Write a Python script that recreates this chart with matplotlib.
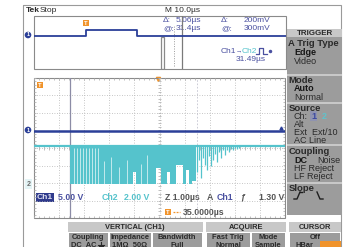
import matplotlib
matplotlib.use("Agg")
import matplotlib.pyplot as plt
from matplotlib.patches import Rectangle, Circle
import numpy as np

plt.rcParams['font.family'] = ['Liberation Sans', 'DejaVu Sans']

# ---------------- data ----------------
ch1_scale = 5.0            # V/div
ch2_scale = 2.0            # V/div
ch1_offset = 1.0           # div
ch2_offset = -2.0          # div
zoom_t = [30.0, 40.0]      # µs shown in the zoomed window (1.00 µs/div)

ch1_t = [30.0, 40.0]
ch1_v = [0.0, 0.0]

ch2_level = 4.2            # V idle level of Ch2
ch2_flat_t = [30.0, 40.0]
# burst envelope (step-post): start time, lowest voltage reached
ch2_env_t = [31.44, 33.96, 34.08, 34.88, 35.04, 35.28, 35.40, 35.64, 35.92, 36.04, 36.16, 36.28, 36.44]
ch2_env_lo = [-0.1, 1.3, -0.1, 1.7, -0.1, 1.2, -0.1, 2.1, -0.1, 1.5, -0.1, 0.2, 0.2]
# decaying ringing after the burst
ch2_finger_t = [36.48, 36.56, 36.64, 36.72, 36.80, 36.88, 36.96, 37.04, 37.12, 37.20, 37.28,
                37.36, 37.44, 37.52, 37.60, 37.68, 37.76, 37.84, 37.92, 38.00, 38.08, 38.16]
ch2_finger_lo = [1.3, 2.6, 0.6, 2.9, 2.1, 1.5, 3.1, 1.9, 2.6, 3.3, 2.4,
                 3.5, 2.9, 3.8, 3.2, 3.8, 3.5, 3.9, 3.8, 4.0, 3.9, 4.0]
# gaps inside the dense burst (from 0 V up to the given voltage)
ch2_gap_t = [31.60, 31.72, 31.84, 31.96, 32.08, 32.20, 32.32, 32.44, 32.56,
             32.80, 33.08, 33.40, 33.72, 34.28, 34.52]
ch2_gap_top = [4.0, 4.0, 4.0, 4.0, 4.0, 4.0, 4.0, 4.0, 4.0,
               2.5, 3.0, 1.8, 2.6, 2.2, 3.2]

cursor_t = [31.44, 36.50]  # µs

# overview record (10.0 µs/div), trigger at 0 µs
ov_t = [-20.6, 0.0, 0.0, 20.4, 20.4, 79.4]
ov_v = [0.0, 0.0, 4.6, 4.6, 0.0, 0.0]
ov_window = [29.6, 38.2]

# ---------------- drawing ----------------
W, H = 356, 247
fig = plt.figure(figsize=(W / 100, H / 100), dpi=100)
bg = fig.add_axes([0, 0, 1, 1])
bg.set_xlim(0, W)
bg.set_ylim(H, 0)
bg.axis('off')

BLUE = '#2b3f98'
CYAN = '#55c3cc'
ORANGE = '#f0932b'
PANEL = '#9c9c9c'
PANEL_L = '#c8c8c8'
DARK = '#2a2a2a'
RBLUE = '#4a50a0'


def px_axes(x0, y0, x1, y1):
    a = fig.add_axes([x0 / W, 1 - y1 / H, (x1 - x0) / W, (y1 - y0) / H])
    a.axis('off')
    return a


def txt(x, y, s, size=6.0, color=DARK, weight='normal', ha='left', **kw):
    bg.text(x, y, s, fontsize=size, color=color, fontweight=weight, ha=ha, va='center', **kw)


def rect(x0, y0, x1, y1, fc, ec='none', lw=0.0, z=1):
    bg.add_patch(Rectangle((x0, y0), x1 - x0, y1 - y0, fc=fc, ec=ec, lw=lw, zorder=z))


# screen border
bg.add_patch(Rectangle((23, 5), 318, 250, fill=False, ec='#9a9a9a', lw=0.8))

# header
txt(26, 11, 'Tek', 6, DARK, 'bold')
txt(40, 11, 'Stop', 6, DARK)
txt(165, 11, 'M 10.0µs', 6, DARK)

# ---------------- overview window ----------------
ov = px_axes(34, 16, 286, 69)
ov.set_xlim(ov_t[0], ov_t[-1])
ov.set_ylim(-4, 4)
ov.add_patch(Rectangle((ov_t[0], -4), ov_t[-1] - ov_t[0], 8, fill=False, ec='#8a8a8a', lw=0.8, clip_on=False))
ov.plot(ov_t, np.asarray(ov_v) / ch1_scale + ch1_offset, color=BLUE, lw=1.3, zorder=3)
ov.add_patch(Rectangle((ov_window[0], -4), 1.4, 4.9, fill=False, ec='#8a8a8a', lw=0.9, zorder=2))
ov.plot([ov_window[1]] * 2, [-4, 4], color='#7a7a7a', lw=0.9, zorder=2)
ov.plot([sum(ov_window) / 2 + 1] * 2, [-3.5, 2.5], color='#9a9a9a', lw=0.7, ls=(0, (1, 1.5)), zorder=2)

# trigger marker in overview
bg.add_patch(Rectangle((83, 20), 6, 6, fc=ORANGE, ec='none', zorder=4))
txt(86, 23.2, 'T', 4.2, 'white', 'bold', ha='center', zorder=5)
# ch1 marker overview
bg.add_patch(Circle((28, 35), 3.3, fc=BLUE, ec='none', zorder=4))
txt(28, 35, '1', 4, 'white', 'bold', ha='center', zorder=5)

# cursor readouts
txt(163, 21, 'Δ:', 6, RBLUE)
txt(201, 21, '5.06µs', 6, RBLUE, ha='right')
txt(221, 21, 'Δ:', 6, RBLUE)
txt(270, 21, '200mV', 6, RBLUE, ha='right')
txt(163, 29, '@:', 6, RBLUE)
txt(201, 29, '31.4µs', 6, RBLUE, ha='right')
txt(221, 29, '@:', 6, RBLUE)
txt(270, 29, '300mV', 6, RBLUE, ha='right')
txt(221, 51, 'Ch1', 6, RBLUE)
txt(235.5, 51, '→', 4.5, RBLUE)
txt(241.5, 51, 'Ch2', 6, CYAN)
bg.plot([256, 259, 259, 263, 263, 267], [54, 54, 48, 48, 54, 54], color=RBLUE, lw=0.9)
bg.plot([270], [51], marker='o', ms=1.5, color=RBLUE)
txt(251, 59, '31.49µs', 6, RBLUE, ha='center')

# ---------------- main (zoom) window ----------------
ax = px_axes(34, 78, 285, 218)
ax.set_xlim(zoom_t)
ax.set_ylim(-4, 4)
gc = '#b4b4b4'
for k in range(1, 10):
    ax.axvline(zoom_t[0] + k, color=gc, lw=0.6, ls=(0, (1, 2)), zorder=1)
for k in range(-3, 4):
    ax.axhline(k, color=gc, lw=0.6, ls=(0, (1, 2)), zorder=1)
ax.add_patch(Rectangle((zoom_t[0], -4), 10, 8, fill=False, ec='#8a8a8a', lw=0.8, zorder=1, clip_on=False))
tx = np.arange(zoom_t[0], zoom_t[1] + 1e-6, 0.2)
ty = np.arange(-4, 4 + 1e-6, 0.2)
ax.vlines(tx, -0.1, 0.1, color=gc, lw=0.6, zorder=1)
ax.vlines(tx, -4, -3.9, color=gc, lw=0.6, zorder=1)
ax.vlines(tx, 3.9, 4, color=gc, lw=0.6, zorder=1)
ax.hlines(ty, 34.94, 35.06, color=gc, lw=0.6, zorder=1)
ax.hlines(ty, 30, 30.07, color=gc, lw=0.6, zorder=1)
ax.hlines(ty, 39.93, 40, color=gc, lw=0.6, zorder=1)


def d1(v):
    return np.asarray(v, float) / ch1_scale + ch1_offset


def d2(v):
    return np.asarray(v, float) / ch2_scale + ch2_offset


# cursors
ax.axvline(cursor_t[0], color='#8c8ca6', lw=0.9, zorder=2)
ax.axvline(cursor_t[1], color='#c4c4d0', lw=0.6, ls=(0, (2, 2)), zorder=2)

# Ch2 trace
ax.fill_between(ch2_env_t, d2(ch2_env_lo), d2(ch2_level), step='post', color=CYAN, lw=0, zorder=3)
ax.vlines(ch2_finger_t, d2(ch2_finger_lo), d2(ch2_level), color=CYAN, lw=0.9, zorder=3)
ax.vlines(ch2_gap_t, d2([-0.1] * len(ch2_gap_t)), d2(ch2_gap_top), color='white', lw=0.6, alpha=0.75, zorder=3)
ax.plot(ch2_flat_t, d2([ch2_level] * 2), color=CYAN, lw=1.6, zorder=4)

# Ch1 trace
ax.plot(ch1_t, d1(ch1_v), color=BLUE, lw=1.8, zorder=5)
ax.plot([ch1_t[-1] - 0.15], d1([ch1_v[-1]]) + 0.15, marker='^', ms=2.2, color=BLUE, zorder=5)

# markers main window
bg.add_patch(Rectangle((37, 82), 6, 6, fc=ORANGE, ec='none', zorder=4))
txt(40, 85.2, 'T', 4.2, 'white', 'bold', ha='center', zorder=5)
bg.plot([158], [79], marker='v', ms=3, color=ORANGE, zorder=5)
bg.add_patch(Circle((28, 130), 3.3, fc=BLUE, ec='none', zorder=4))
txt(28, 130, '1', 4, 'white', 'bold', ha='center', zorder=5)
txt(28.5, 184, '2', 5, '#6a6a6a', 'bold', ha='center',
    bbox=dict(boxstyle='square,pad=0.15', fc='#e4f4f6', ec='none'))

# readouts
txt(37, 197, 'Ch1', 6, '#dfe0f2', 'bold',
    bbox=dict(boxstyle='square,pad=0.12', fc='#2f3a8c', ec='none'))
txt(58, 197, '5.00 V', 6.3, RBLUE, 'bold')
txt(102, 197, 'Ch2', 6.3, CYAN, 'bold')
txt(124, 197, '2.00 V', 6.3, CYAN, 'bold')
txt(165, 197, 'Z 1.00µs', 6.3, '#555555', 'bold')
txt(207, 197, 'A', 6.3, '#555555', 'bold')
txt(217, 197, 'Ch1', 6.3, RBLUE, 'bold')
txt(240, 197, 'ƒ', 6.3, '#555555', 'bold')
txt(284, 197, '1.30 V', 6.3, '#555555', 'bold', ha='right')
bg.add_patch(Rectangle((165, 209), 6, 6, fc=ORANGE, ec='none', zorder=4))
txt(168, 212.2, 'T', 4.2, 'white', 'bold', ha='center', zorder=5)
bg.plot([173, 180], [212, 212], color=ORANGE, lw=0.9, ls=(0, (1.5, 1)))
txt(183, 212, '35.0000µs', 6.3, '#555555', 'bold')

# ---------------- trigger side panel ----------------
rect(287, 29, 342, 215, PANEL)
rect(287, 29, 342, 37.5, PANEL_L)
txt(315, 33.5, 'TRIGGER', 5.8, DARK, 'bold', ha='center')
for yy in [75, 103, 145, 183]:
    rect(287, yy - 1, 342, yy + 1, PANEL_L)
side_titles = [('A Trig Type', 43), ('Mode', 80), ('Source', 108), ('Coupling', 151), ('Slope', 188)]
for s, yy in side_titles:
    txt(288.5, yy, s, 6.8, DARK, 'bold')
side_items = [('Edge', 52, True), ('Video', 61, False), ('Auto', 88, True), ('Normal', 97, False),
              ('Alt', 124, False), ('Ext  Ext/10', 132, False), ('AC Line', 140, False),
              ('DC', 160, True), ('HF Reject', 168, False), ('LF Reject', 176, False)]
for s, yy, hi in side_items:
    txt(294, yy, s, 6.5, '#161616' if hi else DARK, 'bold' if hi else 'normal')
txt(317, 160, 'Noise', 6.5, DARK)
txt(294, 116, 'Ch:', 6.5, DARK)
txt(311, 116, '1', 6.5, '#3d4aa0', 'bold', bbox=dict(boxstyle='square,pad=0.1', fc='#8f93b0', ec='none'))
txt(322, 116, '2', 6.5, '#5fc3cc', 'bold')
bg.plot([294, 297, 300], [199, 199, 192], color='#1e1e1e', lw=1.0)
bg.plot([300, 302], [192, 192], color='#1e1e1e', lw=1.0)
bg.plot([317, 320, 323], [192, 199, 199], color='#1e1e1e', lw=1.0)

# ---------------- bottom menu ----------------
rect(68, 222, 203, 232, PANEL_L)
rect(206, 222, 286, 232, PANEL_L)
rect(289, 222, 341, 232, PANEL_L)
for x0, x1 in [(69, 108), (110, 151), (153, 202), (207, 250), (252, 285), (290, 340)]:
    rect(x0, 233, x1, 247, PANEL)
txt(135, 227, 'VERTICAL (CH1)', 5.4, DARK, 'bold', ha='center')
txt(246, 227, 'ACQUIRE', 5.4, DARK, 'bold', ha='center')
txt(315, 227, 'CURSOR', 5.4, DARK, 'bold', ha='center')
for s, x, yy in [('Coupling', 88, 237), ('DC  AC', 84, 245), ('Impedance', 130, 237),
                 ('1MΩ  50Ω', 130, 245), ('Bandwidth', 177, 237), ('Full', 177, 245),
                 ('Fast Trig', 228, 237), ('Normal', 228, 245), ('Mode', 268, 237),
                 ('Sample', 268, 245), ('Off', 315, 237)]:
    txt(x, yy, s, 5.4, DARK, 'bold', ha='center')
# earth-ground symbol (no installed font has U+23DA)
bg.plot([101, 101], [242, 245], color=DARK, lw=0.8)
bg.plot([98, 104], [245, 245], color=DARK, lw=0.8)
bg.plot([99, 103], [246.3, 246.3], color=DARK, lw=0.8)
rect(320, 241, 341, 247, ORANGE, z=2)
txt(304, 245, 'HBar', 5.4, DARK, 'bold', ha='center')

fig.savefig('out.png', dpi=100)
